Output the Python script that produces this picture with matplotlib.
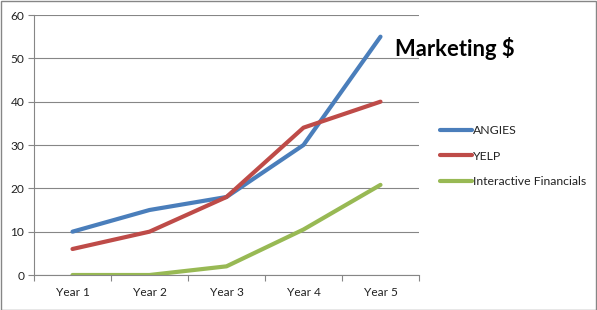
import matplotlib
matplotlib.use("Agg")
import matplotlib.pyplot as plt
from matplotlib.patches import Rectangle

categories = ["Year 1", "Year 2", "Year 3", "Year 4", "Year 5"]
angies = [10, 15, 18, 30, 55]
yelp = [6, 10, 18, 34, 40]
interactive = [0, 0, 2, 10.5, 20.8]
series_names = ["ANGIES", "YELP", "Interactive Financials"]
colors = ["#4A7EBB", "#BE4B48", "#98B954"]
yticks = [0, 10, 20, 30, 40, 50, 60]

plt.rcParams['font.family'] = ['Lato', 'DejaVu Sans']

W, H = 597, 310
fig = plt.figure(figsize=(W/100, H/100), dpi=100)
ax = fig.add_axes([34/W, 1-275/H, (419-34)/W, 260/H])

x = list(range(1, len(categories)+1))
for vals, name, c in zip([angies, yelp, interactive], series_names, colors):
    ax.plot(x, vals, color=c, lw=3, label=name, solid_capstyle='round', solid_joinstyle='round')

ax.set_xlim(0.5, len(categories)+0.5)
ax.set_ylim(0, 60)
ax.set_yticks(yticks)
ax.set_xticks([i+0.5 for i in range(0, len(categories)+1)])
ax.set_xticklabels([])
ax.set_xticks(x, minor=True)
ax.set_xticklabels(categories, minor=True)
ax.tick_params(axis='x', which='minor', length=0, pad=9, labelsize=8.6, colors='#222222')
ax.tick_params(axis='x', which='major', length=4, color='#868686', direction='out')
ax.tick_params(axis='y', length=4, color='#868686', direction='out', labelsize=8.6, pad=3)
ax.tick_params(axis='y', colors='#868686', labelcolor='#222222')
ax.grid(axis='y', color='#868686', lw=0.8)
ax.set_axisbelow(True)
for s in ['top', 'right']:
    ax.spines[s].set_visible(False)
for s in ['left', 'bottom']:
    ax.spines[s].set_color('#868686')
    ax.spines[s].set_linewidth(0.8)

fig.text(395/W, 1-48/H, "Marketing $", fontsize=15.8, fontweight='bold', va='center', ha='left', color='black')

leg = fig.legend(loc='upper left', bbox_to_anchor=(435/W, 1-120/H), frameon=False,
                 fontsize=8.8, handlelength=2.6, handletextpad=0.1, labelspacing=1.2, borderaxespad=0)
for t in leg.get_texts():
    t.set_color('#222222')

fig.patches.append(Rectangle((0.5/W, 0.5/H), (W-1.5)/W, (H-1.5)/H, transform=fig.transFigure,
                             fill=False, edgecolor='#868686', lw=1))

fig.savefig("out.png", dpi=100)
